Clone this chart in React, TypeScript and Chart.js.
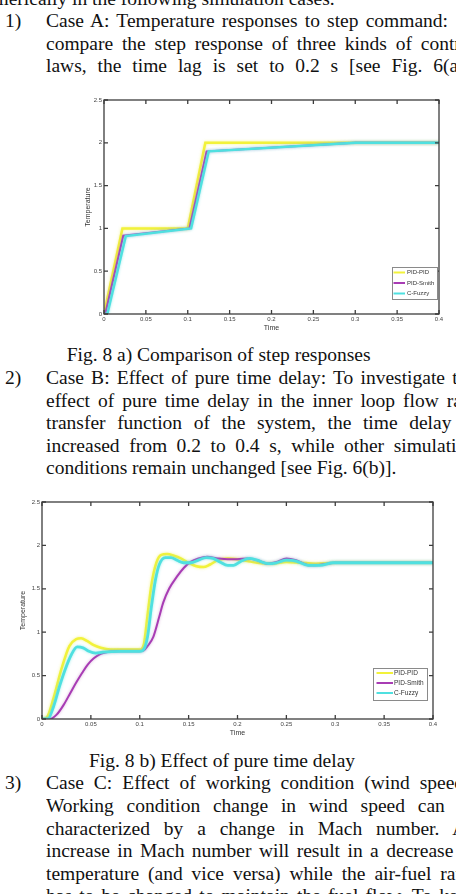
import React, { useEffect, useRef } from "react";
import { Chart, registerables } from "chart.js";

Chart.register(...registerables);

// ---------- shared axis data ----------
const xTickValues = [0, 0.05, 0.1, 0.15, 0.2, 0.25, 0.3, 0.35, 0.4];
const xTickLabels = ["0", "0.05", "0.1", "0.15", "0.2", "0.25", "0.3", "0.35", "0.4"];
const yTickValues = [0, 0.5, 1, 1.5, 2, 2.5];
const yTickLabels = ["0", "0.5", "1", "1.5", "2", "2.5"];
const seriesNames = ["PID-PID", "PID-Smith", "C-Fuzzy"];
const xTitle = "Time";
const yTitle = "Temperature";

// ---------- Fig. 8 a) step responses (time lag 0.2 s) ----------
const aPidPidT = [0, 0.022, 0.1, 0.121, 0.4];
const aPidPidV = [0, 1.0, 1.0, 2.0, 2.0];
const aSmithT = [0, 0.0015, 0.023, 0.102, 0.1225, 0.3, 0.4];
const aSmithV = [0, 0, 0.915, 1.0, 1.9, 2.0, 2.0];
const aFuzzyT = [0, 0.004, 0.026, 0.104, 0.125, 0.3, 0.4];
const aFuzzyV = [0, 0, 0.91, 1.0, 1.9, 2.0, 2.0];

// ---------- Fig. 8 b) effect of pure time delay ----------
const bPidPidT = [0, 0.005, 0.012, 0.02, 0.028, 0.035, 0.04, 0.046, 0.053, 0.06, 0.07, 0.1, 0.104, 0.108, 0.112, 0.117, 0.122, 0.128, 0.135, 0.142, 0.15, 0.158, 0.165, 0.172, 0.18, 0.19, 0.2, 0.21, 0.22, 0.235, 0.25, 0.265, 0.28, 0.3, 0.4];
const bPidPidV = [0, 0.02, 0.25, 0.58, 0.84, 0.92, 0.93, 0.9, 0.85, 0.82, 0.8, 0.8, 0.85, 1.2, 1.55, 1.8, 1.89, 1.9, 1.88, 1.85, 1.8, 1.76, 1.75, 1.78, 1.83, 1.85, 1.84, 1.82, 1.8, 1.79, 1.81, 1.8, 1.79, 1.8, 1.8];
const bSmithT = [0, 0.008, 0.015, 0.022, 0.029, 0.035, 0.041, 0.047, 0.053, 0.06, 0.066, 0.08, 0.1, 0.104, 0.108, 0.114, 0.12, 0.124, 0.13, 0.138, 0.145, 0.152, 0.16, 0.169, 0.18, 0.19, 0.2, 0.21, 0.22, 0.231, 0.24, 0.25, 0.26, 0.274, 0.287, 0.3, 0.32, 0.4];
const bSmithV = [0, 0, 0.05, 0.16, 0.3, 0.42, 0.53, 0.63, 0.7, 0.75, 0.77, 0.78, 0.78, 0.79, 0.84, 0.95, 1.18, 1.34, 1.5, 1.64, 1.74, 1.81, 1.85, 1.87, 1.85, 1.84, 1.84, 1.85, 1.83, 1.79, 1.81, 1.85, 1.83, 1.77, 1.78, 1.8, 1.8, 1.8];
const bFuzzyT = [0, 0.006, 0.012, 0.018, 0.024, 0.03, 0.036, 0.042, 0.048, 0.055, 0.062, 0.08, 0.1, 0.104, 0.108, 0.112, 0.116, 0.12, 0.126, 0.132, 0.138, 0.145, 0.152, 0.16, 0.168, 0.175, 0.182, 0.19, 0.196, 0.204, 0.212, 0.22, 0.231, 0.24, 0.25, 0.26, 0.272, 0.284, 0.298, 0.32, 0.4];
const bFuzzyV = [0, 0, 0.15, 0.38, 0.58, 0.74, 0.83, 0.82, 0.78, 0.76, 0.77, 0.78, 0.78, 0.8, 0.95, 1.3, 1.6, 1.78, 1.86, 1.86, 1.83, 1.8, 1.8, 1.83, 1.86, 1.85, 1.81, 1.77, 1.77, 1.82, 1.85, 1.83, 1.79, 1.8, 1.83, 1.82, 1.77, 1.77, 1.8, 1.8, 1.8];

const colors = ["#f2f23a", "#a83cb4", "#4fe0e0"];
const glowColors = ["rgba(240,240,90,0.7)", "rgba(170,80,180,0.45)", "rgba(90,225,225,0.6)"];

const pts = (t: number[], v: number[]) => t.map((tt, i) => ({ x: tt, y: v[i] }));

// ---------- plugins ----------
const glowPlugin = {
  id: "softGlow",
  beforeDatasetDraw(chart: any, args: any) {
    const ctx = chart.ctx;
    ctx.save();
    const ds = chart.data.datasets[args.index];
    ctx.shadowColor = ds.glow || "rgba(0,0,0,0)";
    ctx.shadowBlur = 3;
  },
  afterDatasetDraw(chart: any) {
    chart.ctx.restore();
  },
};

const framePlugin = {
  id: "matlabFrame",
  afterDatasetsDraw(chart: any) {
    const { ctx, chartArea } = chart;
    const { left, right, top, bottom } = chartArea;
    const xs = chart.scales.x;
    const ys = chart.scales.y;
    ctx.save();
    ctx.strokeStyle = "#3c3c3c";
    ctx.lineWidth = 1.3;
    ctx.strokeRect(left, top, right - left, bottom - top);
    const L = 4;
    ctx.beginPath();
    xs.ticks.forEach((t: any) => {
      const px = xs.getPixelForValue(t.value);
      ctx.moveTo(px, bottom);
      ctx.lineTo(px, bottom - L);
      ctx.moveTo(px, top);
      ctx.lineTo(px, top + L);
    });
    ys.ticks.forEach((t: any) => {
      const py = ys.getPixelForValue(t.value);
      ctx.moveTo(left, py);
      ctx.lineTo(left + L, py);
      ctx.moveTo(right, py);
      ctx.lineTo(right - L, py);
    });
    ctx.stroke();
    ctx.restore();
  },
};

const boxLegendPlugin = {
  id: "boxLegend",
  afterDraw(chart: any, _args: any, opts: any) {
    const { ctx, chartArea } = chart;
    const x0 = chartArea.right - opts.right - opts.width;
    const y0 = chartArea.bottom - opts.bottom - opts.height;
    ctx.save();
    ctx.fillStyle = "#ffffff";
    ctx.fillRect(x0, y0, opts.width, opts.height);
    ctx.strokeStyle = "#8a8a8a";
    ctx.lineWidth = 1;
    ctx.strokeRect(x0 + 0.5, y0 + 0.5, opts.width, opts.height);
    ctx.font = `${opts.fontSize}px "Liberation Sans", Arial, sans-serif`;
    ctx.textBaseline = "middle";
    ctx.textAlign = "left";
    chart.data.datasets.forEach((ds: any, i: number) => {
      const cy = y0 + opts.firstRow + i * opts.rowGap;
      ctx.strokeStyle = ds.borderColor;
      ctx.lineWidth = 2;
      ctx.beginPath();
      ctx.moveTo(x0 + opts.lineStart, cy);
      ctx.lineTo(x0 + opts.lineEnd, cy);
      ctx.stroke();
      ctx.fillStyle = "#333";
      ctx.fillText(ds.label, x0 + opts.textStart, cy);
    });
    ctx.restore();
  },
};

type ChartProps = {
  left: number;
  top: number;
  width: number;
  height: number;
  series: { t: number[]; v: number[]; w: number }[];
  smooth: boolean;
  yAxisWidth: number;
  xAxisHeight: number;
  pad: { top: number; right: number; left: number; bottom: number };
  yTitlePad: number;
  legend: any;
};

function MatlabChart(p: ChartProps) {
  const ref = useRef<HTMLCanvasElement | null>(null);
  useEffect(() => {
    if (!ref.current) return;
    const tickFont = { family: '"Liberation Sans", Arial, sans-serif', size: 6 };
    const chart = new Chart(ref.current, {
      type: "line",
      data: {
        datasets: p.series.map((s, i) => ({
          label: seriesNames[i],
          data: pts(s.t, s.v),
          borderColor: colors[i],
          backgroundColor: colors[i],
          glow: glowColors[i],
          borderWidth: s.w,
          pointRadius: 0,
          fill: false,
          tension: p.smooth ? 0.4 : 0,
          cubicInterpolationMode: p.smooth ? "monotone" : "default",
          order: 2 - i,
        })),
      },
      options: {
        animation: false,
        responsive: false,
        devicePixelRatio: 1,
        layout: { padding: p.pad },
        plugins: {
          legend: { display: false },
          tooltip: { enabled: false },
          boxLegend: p.legend,
        } as any,
        scales: {
          x: {
            type: "linear",
            min: 0,
            max: 0.4,
            grid: { display: false, drawTicks: false },
            border: { display: false },
            afterBuildTicks: (scale: any) => {
              scale.ticks = xTickValues.map((v) => ({ value: v }));
            },
            afterFit: (scale: any) => {
              scale.height = p.xAxisHeight;
            },
            ticks: {
              autoSkip: false,
              maxRotation: 0,
              padding: 2,
              color: "#444",
              font: tickFont,
              callback: (_v: any, i: number) => xTickLabels[i],
            },
            title: {
              display: true,
              text: xTitle,
              color: "#333",
              font: { family: '"Liberation Sans", Arial, sans-serif', size: 7 },
              padding: { top: 0, bottom: 0 },
            },
          },
          y: {
            type: "linear",
            min: 0,
            max: 2.5,
            grid: { display: false, drawTicks: false },
            border: { display: false },
            afterBuildTicks: (scale: any) => {
              scale.ticks = yTickValues.map((v) => ({ value: v }));
            },
            afterFit: (scale: any) => {
              scale.width = p.yAxisWidth;
            },
            ticks: {
              autoSkip: false,
              padding: 2,
              color: "#444",
              font: tickFont,
              callback: (_v: any, i: number) => yTickLabels[i],
            },
            title: {
              display: true,
              text: yTitle,
              color: "#333",
              font: { family: '"Liberation Sans", Arial, sans-serif', size: 7 },
              padding: { top: p.yTitlePad, bottom: 0 },
            },
          },
        },
      },
      plugins: [glowPlugin, framePlugin, boxLegendPlugin],
    } as any);
    return () => chart.destroy();
  }, []);
  return (
    <canvas
      ref={ref}
      width={p.width}
      height={p.height}
      style={{ position: "absolute", left: p.left, top: p.top, width: p.width, height: p.height }}
    />
  );
}

// ---------- page text ----------
const FS = 19.5;
const BASE = 18.1;

function TextLine({ baseline, left, width, text, justify }: { baseline: number; left: number; width?: number; text: string; justify?: boolean }) {
  return (
    <div
      style={{
        position: "absolute",
        left,
        top: baseline - BASE,
        width: width ?? 600,
        height: 23,
        lineHeight: "23px",
        fontSize: FS,
        overflow: "hidden",
        whiteSpace: justify ? "normal" : "nowrap",
        textAlign: justify ? "justify" : "left",
        textAlignLast: justify ? "justify" : "auto",
      } as any}
    >
      {text}
    </div>
  );
}

const topLines = [
  "Case A: Temperature responses to step command:",
  "compare the step response of three kinds of control",
  "laws, the time lag is set to 0.2 s [see Fig. 6(a)].",
];
const topWidths = [402, 430, 430];
const bLines = [
  "Case B: Effect of pure time delay: To investigate the",
  "effect of pure time delay in the inner loop flow rate",
  "transfer function of the system, the time delay is",
  "increased from 0.2 to 0.4 s, while other simulation",
];
const bLast = "conditions remain unchanged [see Fig. 6(b)].";
const cLines = [
  "Case C: Effect of working condition (wind speed):",
  "Working condition change in wind speed can be",
  "characterized by a change in Mach number. An",
  "increase in Mach number will result in a decrease in",
  "temperature (and vice versa) while the air-fuel ratio",
  "has to be changed to maintain the fuel flow. To keep",
];
const captionA = "Fig. 8 a) Comparison of step responses";
const captionB = "Fig. 8 b) Effect of pure time delay";

const LH = 22.6;
const COL_L = 46;
const COL_W = 430;

export default function App() {
  return (
    <div
      style={{
        position: "absolute",
        left: 0,
        top: 0,
        width: 456,
        height: 894,
        overflow: "hidden",
        background: "#fff",
        color: "#111",
        fontFamily: '"Liberation Serif", "Times New Roman", serif',
      }}
    >
      <TextLine baseline={4.7} left={-26} text="numerically in the following simulation cases." />
      <TextLine baseline={27.3} left={5} text="1)" />
      {topLines.map((t, i) => (
        <TextLine key={"t" + i} baseline={27.3 + i * LH} left={COL_L} width={topWidths[i]} text={t} justify />
      ))}

      <MatlabChart
        left={78}
        top={92}
        width={368}
        height={246}
        series={[
          { t: aPidPidT, v: aPidPidV, w: 2.5 },
          { t: aSmithT, v: aSmithV, w: 2 },
          { t: aFuzzyT, v: aFuzzyV, w: 2.5 },
        ]}
        smooth={false}
        yAxisWidth={26}
        xAxisHeight={18}
        pad={{ top: 8, right: 7, left: 0, bottom: 6 }}
        yTitlePad={5.8}
        legend={{ right: 2, bottom: 15, width: 45, height: 32, firstRow: 5.5, rowGap: 10.5, lineStart: 1.5, lineEnd: 13, textStart: 15, fontSize: 6 }}
      />

      <TextLine baseline={361.5} left={66.7} text={captionA} />
      <TextLine baseline={384.1} left={5} text="2)" />
      {bLines.map((t, i) => (
        <TextLine key={"b" + i} baseline={384.1 + i * LH} left={COL_L} width={COL_W} text={t} justify />
      ))}
      <TextLine baseline={384.1 + 4 * LH} left={COL_L} text={bLast} />

      <MatlabChart
        left={14}
        top={494}
        width={426}
        height={250}
        series={[
          { t: bPidPidT, v: bPidPidV, w: 2.5 },
          { t: bSmithT, v: bSmithV, w: 2 },
          { t: bFuzzyT, v: bFuzzyV, w: 2.8 },
        ]}
        smooth={true}
        yAxisWidth={28}
        xAxisHeight={18}
        pad={{ top: 8, right: 7, left: 0, bottom: 7 }}
        yTitlePad={5.3}
        legend={{ right: 6, bottom: 19, width: 54, height: 32, firstRow: 5, rowGap: 10, lineStart: 3.5, lineEnd: 20, textStart: 21, fontSize: 6.5 }}
      />

      <TextLine baseline={767.5} left={89} text={captionB} />
      <TextLine baseline={789.5} left={5} text="3)" />
      {cLines.map((t, i) => (
        <TextLine key={"c" + i} baseline={789.5 + i * LH} left={COL_L} width={COL_W} text={t} justify />
      ))}
    </div>
  );
}
